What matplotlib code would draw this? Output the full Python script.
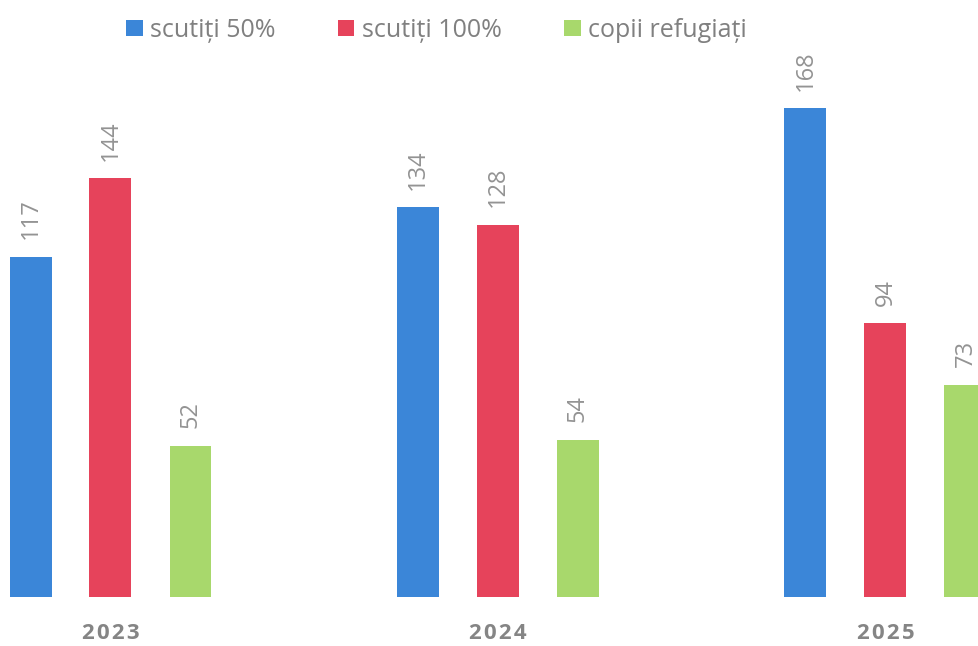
import numpy as np
import matplotlib.pyplot as plt

years = ['2023', '2024', '2025']
series = ['scutiți 50%', 'scutiți 100%', 'copii refugiați']
scutiti_50 = [117, 134, 168]
scutiti_100 = [144, 128, 94]
copii_refugiati = [52, 54, 73]

colors = ['#3b86d8', '#e6435b', '#a8d86c']
txt_gray = '#939393'

plt.rcParams['font.family'] = ['Open Sans', 'DejaVu Sans']

fig = plt.figure(figsize=(9.79, 6.46), dpi=100)
ax = fig.add_axes([0, 0, 1, 1])

x = np.arange(len(years))
step = 80 / 387.5      # distance between bars inside a group
width = 42 / 387.5

for i, (name, vals) in enumerate(zip(series, [scutiti_50, scutiti_100, copii_refugiati])):
    xs = x + (i - 1) * step
    ax.bar(xs, vals, width=width, color=colors[i], label=name)
    for xb, v in zip(xs, vals):
        ax.text(xb, v + 6, str(v), rotation=90, ha='center', va='bottom',
                fontsize=17, color=txt_gray)

# year labels under each group (spaced out a little)
for xi, yr in zip(x, years):
    ax.text(xi, -12.6, '\u200a'.join(yr), ha='center', va='center', fontsize=16,
            fontweight='bold', color='#858585')

ax.set_xlim(-110.5 / 387.5, (979 - 110.5) / 387.5)
ax.set_ylim(-49 / 2.91, 597 / 2.91)
ax.axis('off')

leg = fig.legend(loc='upper center', bbox_to_anchor=(0.446, 0.99), ncol=3,
                 frameon=False, fontsize=18, handlelength=0.65, handleheight=0.65,
                 handletextpad=0.3, columnspacing=2.5, borderaxespad=0.05)
for t in leg.get_texts():
    t.set_color('#808080')

fig.savefig('out.png', dpi=100)
